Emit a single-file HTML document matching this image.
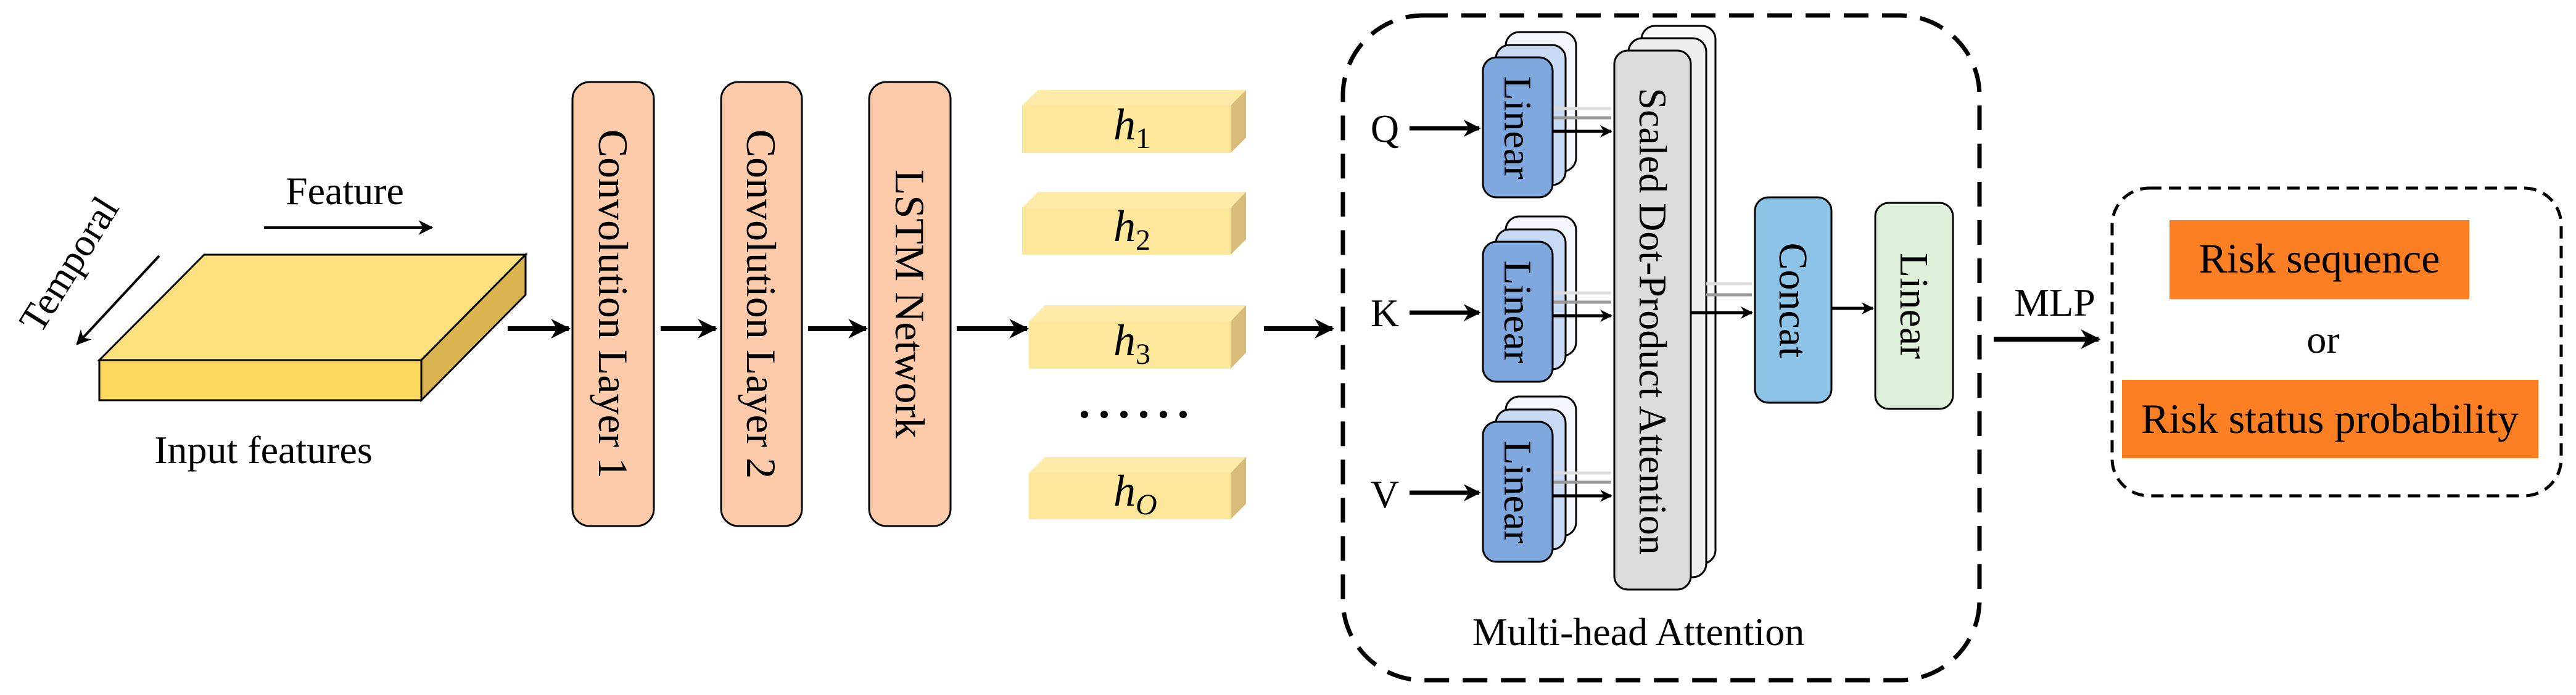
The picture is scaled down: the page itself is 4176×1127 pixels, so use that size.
<!DOCTYPE html>
<html><head><meta charset="utf-8"><style>
html,body{margin:0;padding:0;background:#fff;}
svg{display:block;}
svg, svg text, svg tspan{font-family:"Liberation Serif","Times New Roman",Times,serif !important;fill:#000;}
</style></head><body>
<svg width="4176" height="1127" viewBox="0 0 4176 1127" xmlns="http://www.w3.org/2000/svg" font-family="Liberation Serif, Times New Roman, serif">
<defs>
<marker id="ah" viewBox="0 0 10 10" refX="9" refY="5" markerWidth="4" markerHeight="4" orient="auto" markerUnits="strokeWidth">
<path d="M0,0 L10,5 L0,10 L3,5 Z" fill="#000"/></marker>
<marker id="ah2" viewBox="0 0 10 10" refX="9" refY="5" markerWidth="6" markerHeight="6" orient="auto" markerUnits="strokeWidth">
<path d="M0,0 L10,5 L0,10 L3,5 Z" fill="#000"/></marker>
</defs>

<!-- input slab -->
<polygon points="161,584 331,413 852,413 683,584" fill="#fde17f" stroke="#000" stroke-width="3"/>
<polygon points="683,584 852,413 852,478 683,649" fill="#dab44f" stroke="#000" stroke-width="3"/>
<rect x="161" y="584" width="522" height="65" fill="#fed95f" stroke="#000" stroke-width="3"/>
<text font-family="Liberation Serif, serif" x="559" y="331" font-size="64" text-anchor="middle">Feature</text>
<line x1="428" y1="369" x2="700" y2="369" stroke="#000" stroke-width="4" marker-end="url(#ah2)"/>
<line x1="258" y1="415" x2="125" y2="558" stroke="#000" stroke-width="4" marker-end="url(#ah2)"/>
<text font-family="Liberation Serif, serif" x="0" y="0" font-size="64" text-anchor="middle" transform="translate(130,440) rotate(-58)">Temporal</text>
<text font-family="Liberation Serif, serif" x="427" y="751" font-size="64" text-anchor="middle">Input features</text>

<!-- conv/LSTM -->
<rect x="928" y="133" width="132" height="720" rx="28" fill="#fdcbaa" stroke="#000" stroke-width="3"/>
<rect x="1169" y="133" width="131" height="720" rx="28" fill="#fdcbaa" stroke="#000" stroke-width="3"/>
<rect x="1409" y="133" width="132" height="720" rx="28" fill="#fdcbaa" stroke="#000" stroke-width="3"/>
<text font-family="Liberation Serif, serif" font-size="68" text-anchor="middle" transform="translate(994,493) rotate(90)" dy="23">Convolution Layer 1</text>
<text font-family="Liberation Serif, serif" font-size="68" text-anchor="middle" transform="translate(1234,493) rotate(90)" dy="23">Convolution Layer 2</text>
<text font-family="Liberation Serif, serif" font-size="68" text-anchor="middle" transform="translate(1475,493) rotate(90)" dy="23">LSTM Network</text>

<g stroke="#000" stroke-width="8" marker-end="url(#ah)">
<line x1="823" y1="533" x2="922" y2="533"/>
<line x1="1071" y1="533" x2="1160" y2="533"/>
<line x1="1310" y1="533" x2="1404" y2="533"/>
<line x1="1551" y1="533" x2="1665" y2="533"/>
<line x1="2049" y1="533" x2="2160" y2="533"/>
<line x1="3232" y1="550" x2="3402" y2="550"/>
</g>

<!-- h boxes -->
<g>
<polygon points="1657,171 1683,146 2020,146 1995,171" fill="#fdeaa6"/>
<polygon points="1995,171 2020,146 2020,223 1995,248" fill="#d8bd78"/>
<rect x="1657" y="171" width="338" height="77" fill="#fde79b"/>
<polygon points="1657,337 1683,311 2020,311 1995,337" fill="#fdeaa6"/>
<polygon points="1995,337 2020,311 2020,388 1995,413" fill="#d8bd78"/>
<rect x="1657" y="337" width="338" height="76" fill="#fde79b"/>
<polygon points="1668,521 1694,495 2020,495 1995,521" fill="#fdeaa6"/>
<polygon points="1995,521 2020,495 2020,572 1995,598" fill="#d8bd78"/>
<rect x="1668" y="521" width="327" height="77" fill="#fde79b"/>
<polygon points="1668,767 1694,741 2020,741 1995,767" fill="#fdeaa6"/>
<polygon points="1995,767 2020,741 2020,817 1995,842" fill="#d8bd78"/>
<rect x="1668" y="767" width="327" height="75" fill="#fde79b"/>
</g>
<text font-family="Liberation Serif, serif" x="1805" y="226" font-size="72" font-style="italic">h<tspan font-size="48" font-style="normal" dy="14">1</tspan></text>
<text font-family="Liberation Serif, serif" x="1805" y="391" font-size="72" font-style="italic">h<tspan font-size="48" font-style="normal" dy="14">2</tspan></text>
<text font-family="Liberation Serif, serif" x="1805" y="576" font-size="72" font-style="italic">h<tspan font-size="48" font-style="normal" dy="14">3</tspan></text>
<text font-family="Liberation Serif, serif" x="1805" y="820" font-size="72" font-style="italic">h<tspan font-size="48" dy="14">O</tspan></text>
<g fill="#000">
<circle cx="1758" cy="672" r="6"/><circle cx="1790" cy="672" r="6"/><circle cx="1822" cy="672" r="6"/><circle cx="1854" cy="672" r="6"/><circle cx="1886" cy="672" r="6"/><circle cx="1918" cy="672" r="6"/>
</g>

<!-- MHA box -->
<rect x="2177" y="25" width="1032" height="1078" rx="130" fill="none" stroke="#000" stroke-width="7" stroke-dasharray="40,22"/>
<text font-family="Liberation Serif, serif" x="2245" y="230" font-size="64" text-anchor="middle">Q</text>
<text font-family="Liberation Serif, serif" x="2245" y="529" font-size="64" text-anchor="middle">K</text>
<text font-family="Liberation Serif, serif" x="2245" y="823" font-size="64" text-anchor="middle">V</text>

<g id="lin">
<rect x="2441" y="52" width="114" height="226" rx="22" fill="#f3f6fc" stroke="#000" stroke-width="3"/>
<rect x="2425" y="73" width="113" height="227" rx="22" fill="#c9daf4" stroke="#000" stroke-width="3"/>
<line x1="2517" y1="176" x2="2612" y2="176" stroke="#ddd" stroke-width="5"/>
<line x1="2517" y1="191" x2="2612" y2="191" stroke="#999" stroke-width="5"/>
<rect x="2404" y="93" width="113" height="227" rx="22" fill="#7ea8de" stroke="#000" stroke-width="3"/>
<text font-family="Liberation Serif, serif" font-size="64" text-anchor="middle" transform="translate(2460,207) rotate(90)" dy="21">Linear</text>
<line x1="2285" y1="208" x2="2398" y2="208" stroke="#000" stroke-width="7" marker-end="url(#ah)"/>
<line x1="2517" y1="213" x2="2612" y2="213" stroke="#000" stroke-width="5" marker-end="url(#ah)"/>
</g>
<use href="#lin" transform="translate(0,299)"/>
<use href="#lin" transform="translate(0,591)"/>

<rect x="2661" y="42" width="120" height="872" rx="22" fill="#f7f7f7" stroke="#000" stroke-width="3"/>
<rect x="2640" y="62" width="126" height="874" rx="22" fill="#eeeeee" stroke="#000" stroke-width="3"/>
<rect x="2617" y="82" width="124" height="874" rx="22" fill="#dcdcdc" stroke="#000" stroke-width="3"/>
<text font-family="Liberation Serif, serif" font-size="64" text-anchor="middle" transform="translate(2679,521) rotate(90)" dy="21">Scaled Dot-Product Attention</text>
<line x1="2766" y1="460" x2="2840" y2="460" stroke="#ddd" stroke-width="5"/>
<line x1="2766" y1="478" x2="2840" y2="478" stroke="#999" stroke-width="5"/>
<line x1="2742" y1="507" x2="2840" y2="507" stroke="#000" stroke-width="5" marker-end="url(#ah)"/>

<rect x="2845" y="320" width="124" height="333" rx="22" fill="#8ec3e8" stroke="#000" stroke-width="3"/>
<text font-family="Liberation Serif, serif" font-size="66" text-anchor="middle" transform="translate(2907,487) rotate(90)" dy="22">Concat</text>
<line x1="2969" y1="500" x2="3036" y2="500" stroke="#000" stroke-width="5" marker-end="url(#ah)"/>
<rect x="3040" y="329" width="126" height="334" rx="22" fill="#def0da" stroke="#000" stroke-width="3"/>
<text font-family="Liberation Serif, serif" font-size="66" text-anchor="middle" transform="translate(3103,496) rotate(90)" dy="22">Linear</text>

<text font-family="Liberation Serif, serif" x="2656" y="1046" font-size="64" text-anchor="middle">Multi-head Attention</text>
<text font-family="Liberation Serif, serif" x="3331" y="512" font-size="64" text-anchor="middle">MLP</text>

<!-- output -->
<rect x="3424" y="305" width="728" height="499" rx="60" fill="none" stroke="#000" stroke-width="5" stroke-dasharray="20,12"/>
<rect x="3517" y="357" width="486" height="128" fill="#fd7f24"/>
<text font-family="Liberation Serif, serif" x="3760" y="442" font-size="68" text-anchor="middle">Risk sequence</text>
<text font-family="Liberation Serif, serif" x="3766" y="572" font-size="64" text-anchor="middle">or</text>
<rect x="3440" y="616" width="675" height="127" fill="#fd7f24"/>
<text font-family="Liberation Serif, serif" x="3777" y="702" font-size="68" text-anchor="middle">Risk status probability</text>
</svg>
</body></html>
